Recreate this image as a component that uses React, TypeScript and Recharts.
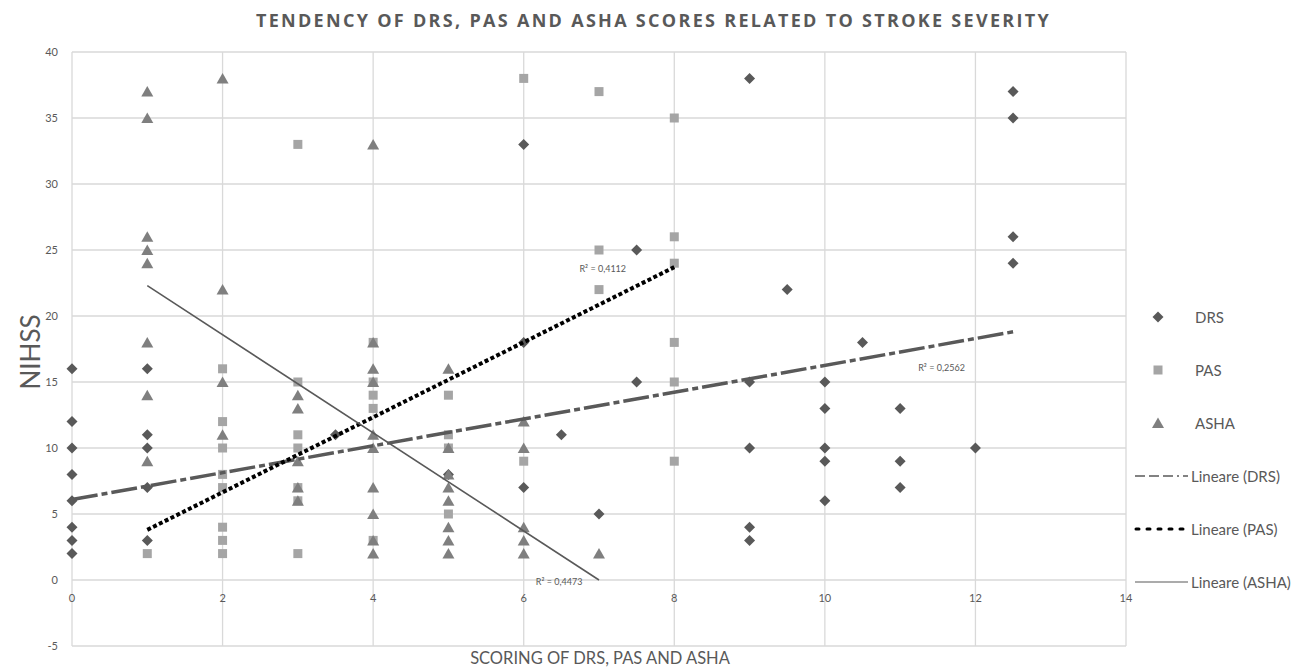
import React from 'react';
import {
  ScatterChart,
  Scatter,
  XAxis,
  YAxis,
  CartesianGrid,
  ReferenceDot,
} from 'recharts';

// raw points: [score, NIHSS]
const drsPoints = [
  [0, 16], [0, 12], [0, 10], [0, 8], [0, 6], [0, 4], [0, 3], [0, 2],
  [1, 16], [1, 11], [1, 10], [1, 7], [1, 3],
  [3.5, 11], [5, 8], [6, 33], [6, 18], [6, 7], [6.5, 11], [7, 5],
  [7.5, 25], [7.5, 15], [9, 38], [9, 15], [9, 10], [9, 4], [9, 3],
  [9.5, 22], [10, 15], [10, 13], [10, 10], [10, 9], [10, 6], [10.5, 18],
  [11, 13], [11, 9], [11, 7], [12, 10],
  [12.5, 37], [12.5, 35], [12.5, 26], [12.5, 24],
];

const pasPoints = [
  [1, 2], [2, 16], [2, 12], [2, 10], [2, 8], [2, 7], [2, 4], [2, 3], [2, 2],
  [3, 33], [3, 15], [3, 11], [3, 10], [3, 7], [3, 6], [3, 2],
  [4, 18], [4, 15], [4, 14], [4, 13], [4, 3],
  [5, 14], [5, 11], [5, 10], [5, 5],
  [6, 38], [6, 9], [7, 37], [7, 25], [7, 22],
  [8, 35], [8, 26], [8, 24], [8, 18], [8, 15], [8, 9],
];

const ashaPoints = [
  [1, 37], [1, 35], [1, 26], [1, 25], [1, 24], [1, 18], [1, 14], [1, 9],
  [2, 38], [2, 22], [2, 15], [2, 11],
  [3, 14], [3, 13], [3, 9], [3, 7], [3, 6],
  [4, 33], [4, 18], [4, 16], [4, 15], [4, 11], [4, 10], [4, 7], [4, 5], [4, 3], [4, 2],
  [5, 16], [5, 10], [5, 8], [5, 7], [5, 6], [5, 4], [5, 3], [5, 2],
  [6, 12], [6, 10], [6, 4], [6, 3], [6, 2], [7, 2],
];

// linear trendline end points (as drawn by Excel)
const drsTrend = [[0, 6.1], [12.5, 18.8]];
const pasTrend = [[1, 3.8], [8, 23.7]];
const ashaTrend = [[1, 22.3], [7, 0]];

// R² annotations: [x, y, text]
const r2Labels: [number, number, string][] = [
  [7.05, 23.6, 'R² = 0,4112'],
  [11.55, 16.1, 'R² = 0,2562'],
  [6.47, -0.1, 'R² = 0,4473'],
];

const xTicks = [0, 2, 4, 6, 8, 10, 12, 14];
const yTicks = [-5, 0, 5, 10, 15, 20, 25, 30, 35, 40];

const legendItems = ['DRS', 'PAS', 'ASHA', 'Lineare (DRS)', 'Lineare (PAS)', 'Lineare (ASHA)'];

const toData = (pts: number[][]) => pts.map(([x, y]) => ({ x, y }));

const TEXT = '#595959';
const DRS_COLOR = '#595959';
const PAS_COLOR = '#a5a5a5';
const ASHA_COLOR = '#7f7f7f';

const Diamond = ({ cx, cy }: any) => (
  <polygon
    points={`${cx},${cy - 5.5} ${cx + 5.5},${cy} ${cx},${cy + 5.5} ${cx - 5.5},${cy}`}
    fill={DRS_COLOR}
  />
);
const Square = ({ cx, cy }: any) => (
  <rect x={cx - 4.5} y={cy - 4.5} width={9} height={9} fill={PAS_COLOR} />
);
const Triangle = ({ cx, cy }: any) => (
  <polygon
    points={`${cx},${cy - 5.5} ${cx + 6},${cy + 5} ${cx - 6},${cy + 5}`}
    fill={ASHA_COLOR}
  />
);
const NoDot = () => null;

// Excel draws the category labels where the axis crosses y = 0
const XTick = ({ x, y, payload }: any) => (
  <text x={x} y={y} dy={-52} textAnchor="middle" fill={TEXT} fontSize={11} fontFamily="Lato">
    {payload.value}
  </text>
);

const LegendBox = () => (
  <div
    style={{
      position: 'absolute',
      left: 1130,
      top: 290,
      fontFamily: 'Lato',
      fontSize: 15,
      color: TEXT,
    }}
  >
    {legendItems.map((name, i) => (
      <div key={name} style={{ display: 'flex', alignItems: 'center', height: 53 }}>
        <svg width={60} height={14}>
          {i === 0 && <Diamond cx={28} cy={7} />}
          {i === 1 && <Square cx={28} cy={7} />}
          {i === 2 && <Triangle cx={28} cy={7} />}
          {i === 3 && <line x1={5} x2={58} y1={7} y2={7} stroke={DRS_COLOR} strokeWidth={1.5} strokeDasharray="10 4 10 4 10 4 2 4" />}
          {i === 4 && <line x1={6} x2={58} y1={7} y2={7} stroke="#000" strokeWidth={3} strokeDasharray="3 8" strokeLinecap="round" />}
          {i === 5 && <line x1={5} x2={58} y1={7} y2={7} stroke={DRS_COLOR} strokeWidth={1.2} />}
        </svg>
        <span style={{ marginLeft: i < 3 ? 5 : 1 }}>{name}</span>
      </div>
    ))}
  </div>
);

export default function App() {
  return (
    <div style={{ position: 'absolute', left: 0, top: 0, width: 1307, height: 670, background: '#fff' }}>
      <div
        style={{
          position: 'absolute',
          top: 8,
          left: 0,
          width: 1307,
          textAlign: 'center',
          fontFamily: 'Open Sans',
          fontWeight: 700,
          fontSize: 18,
          letterSpacing: 2.3,
          color: TEXT,
        }}
      >
        TENDENCY OF DRS, PAS AND ASHA SCORES RELATED TO STROKE SEVERITY
      </div>
      <div
        style={{
          position: 'absolute',
          left: 30,
          top: 352,
          transform: 'translate(-50%, -50%) rotate(-90deg)',
          fontFamily: 'Lato',
          fontSize: 26,
          color: TEXT,
        }}
      >
        NIHSS
      </div>
      <div
        style={{
          position: 'absolute',
          left: 0,
          top: 648,
          width: 1200,
          textAlign: 'center',
          fontFamily: 'Lato',
          fontSize: 16.5,
          color: TEXT,
        }}
      >
        SCORING OF DRS, PAS AND ASHA
      </div>
      <LegendBox />
      <ScatterChart
        width={1307}
        height={670}
        margin={{ top: 52, right: 181, bottom: 4, left: 42 }}
        style={{ position: 'absolute', left: 0, top: 0 }}
      >
        <CartesianGrid stroke="#d9d9d9" strokeWidth={1.3} />
        <XAxis
          type="number"
          dataKey="x"
          domain={[0, 14]}
          ticks={xTicks}
          axisLine={false}
          tickLine={false}
          height={20}
          tick={<XTick />}
          interval={0}
        />
        <YAxis
          type="number"
          dataKey="y"
          domain={[-5, 40]}
          ticks={yTicks}
          axisLine={false}
          tickLine={false}
          tickMargin={8}
          width={30}
          interval={0}
          tick={{ fill: TEXT, fontSize: 11, fontFamily: 'Lato' }}
        />
        <Scatter name="DRS" data={toData(drsPoints)} shape={<Diamond />} isAnimationActive={false} />
        <Scatter name="PAS" data={toData(pasPoints)} shape={<Square />} isAnimationActive={false} />
        <Scatter name="ASHA" data={toData(ashaPoints)} shape={<Triangle />} isAnimationActive={false} />
        <Scatter
          name="Lineare (DRS)"
          data={toData(drsTrend)}
          shape={<NoDot />}
          line={{ stroke: DRS_COLOR, strokeWidth: 3.5, strokeDasharray: '26 4 6 4' }}
          isAnimationActive={false}
        />
        <Scatter
          name="Lineare (PAS)"
          data={toData(pasTrend)}
          shape={<NoDot />}
          line={{ stroke: '#000', strokeWidth: 4, strokeDasharray: '4 2.5' }}
          isAnimationActive={false}
        />
        <Scatter
          name="Lineare (ASHA)"
          data={toData(ashaTrend)}
          shape={<NoDot />}
          line={{ stroke: DRS_COLOR, strokeWidth: 1.6 }}
          isAnimationActive={false}
        />
        {r2Labels.map(([x, y, text]) => (
          <ReferenceDot
            key={text}
            x={x}
            y={y}
            r={0}
            ifOverflow="visible"
            label={{ value: text, fill: TEXT, fontSize: 9, fontFamily: 'Lato' }}
          />
        ))}
      </ScatterChart>
    </div>
  );
}
